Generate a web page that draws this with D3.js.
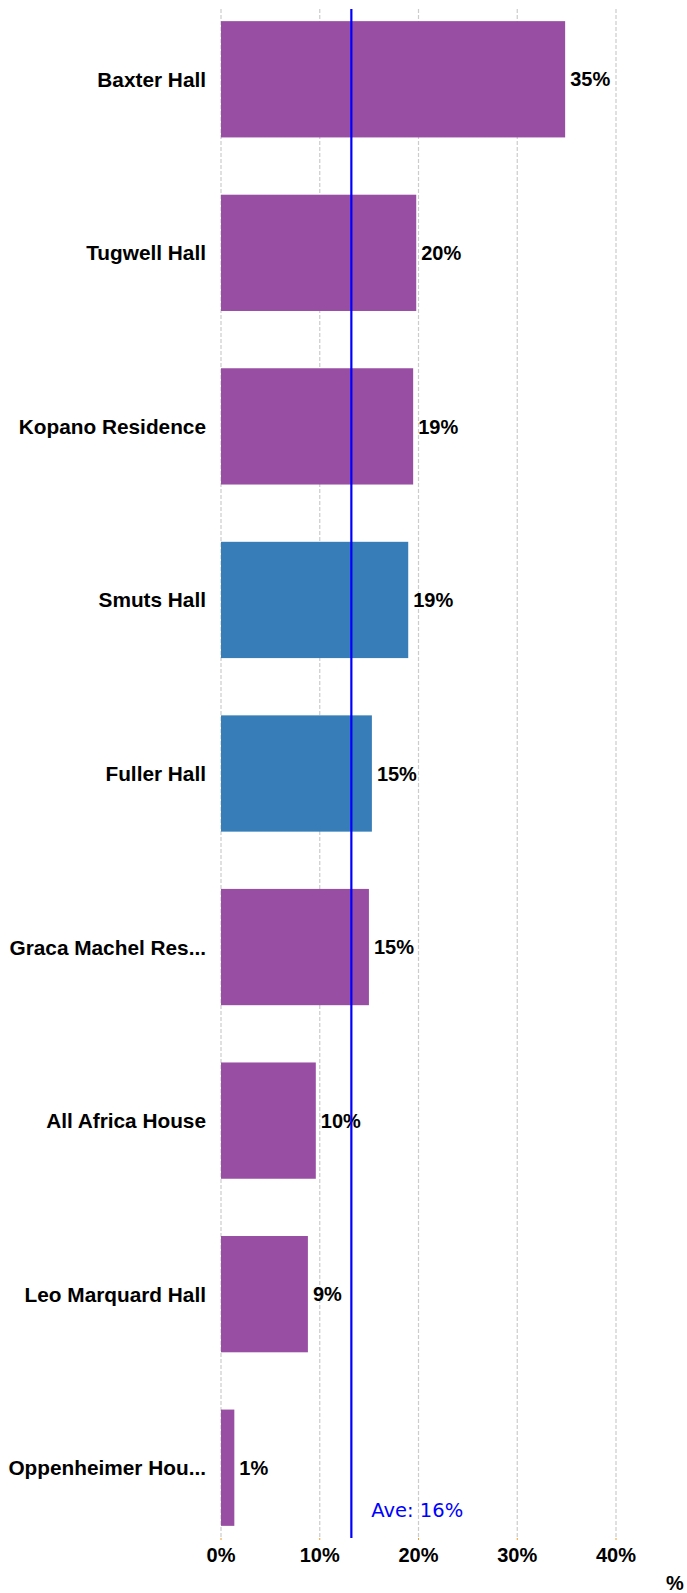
<!DOCTYPE html>
<html>
<head>
<meta charset="utf-8">
<script src="https://cdn.jsdelivr.net/npm/d3@7"></script>
<style>
  html, body { margin: 0; padding: 0; background: #fff; }
  svg { display: block; }
</style>
</head>
<body>
<svg id="chart" width="687" height="1593"></svg>
<script>
const categories = ["Baxter Hall", "Tugwell Hall", "Kopano Residence", "Smuts Hall", "Fuller Hall",
  "Graca Machel Res...", "All Africa House", "Leo Marquard Hall", "Oppenheimer Hou..."];
const values = [34.85, 19.77, 19.46, 18.96, 15.28, 14.98, 9.6, 8.8, 1.35];
const highlighted = ["Smuts Hall", "Fuller Hall"];
const tickValues = [0, 10, 20, 30, 40];
const averageLineValue = 13.2;
const averageLabel = "Ave: 16%";
const axisTitle = "%";

(function () {
const svg = d3.select("#chart");
const plotTop = 9, plotBottom = 1538, plotLeft = 221, plotRight = 616;

const x = d3.scaleLinear().domain([0, 40]).range([plotLeft, plotRight]);
const y = d3.scaleBand().domain(categories).range([plotTop, plotBottom]).paddingInner(0.33).paddingOuter(0.07);

// grid lines
svg.append("g").selectAll("line").data(tickValues).join("line")
  .attr("x1", d => x(d)).attr("x2", d => x(d))
  .attr("y1", plotTop).attr("y2", plotBottom)
  .attr("stroke", "#cccccc").attr("stroke-width", 1.2)
  .attr("stroke-dasharray", "4,2");

// small orange ticks
svg.append("g").selectAll("line").data(tickValues).join("line")
  .attr("x1", d => x(d)).attr("x2", d => x(d))
  .attr("y1", plotBottom).attr("y2", plotBottom + 2)
  .attr("stroke", "#f59a23").attr("stroke-width", 1);

// bars
const data = categories.map((c, i) => ({ c, v: values[i] }));
svg.append("g").selectAll("rect").data(data).join("rect")
  .attr("x", x(0))
  .attr("y", d => y(d.c))
  .attr("width", d => x(d.v) - x(0))
  .attr("height", y.bandwidth())
  .attr("fill", d => highlighted.includes(d.c) ? "#377eb8" : "#984ea3");

// value labels
svg.append("g").selectAll("text").data(data).join("text")
  .attr("x", d => x(d.v) + 5)
  .attr("y", d => y(d.c) + y.bandwidth() / 2)
  .attr("dy", "0.36em")
  .attr("font-family", "Liberation Sans, Arial, sans-serif")
  .attr("font-weight", "bold")
  .attr("font-size", 20)
  .attr("fill", "#000")
  .text(d => Math.round(d.v) + "%");

// category labels
svg.append("g").selectAll("text").data(categories).join("text")
  .attr("x", plotLeft - 15)
  .attr("y", d => y(d) + y.bandwidth() / 2)
  .attr("dy", "0.36em")
  .attr("text-anchor", "end")
  .attr("font-family", "Liberation Sans, Arial, sans-serif")
  .attr("font-weight", "bold")
  .attr("font-size", 20.8)
  .attr("fill", "#000")
  .text(d => d);

// average line
svg.append("line")
  .attr("x1", x(averageLineValue)).attr("x2", x(averageLineValue))
  .attr("y1", plotTop).attr("y2", plotBottom)
  .attr("stroke", "#0000ff").attr("stroke-width", 2.2);

svg.append("text")
  .attr("x", x(averageLineValue) + 20)
  .attr("y", 1517)
  .attr("font-family", "DejaVu Sans, Verdana, sans-serif")
  .attr("font-size", 19.5)
  .attr("fill", "#0000ff")
  .text(averageLabel);

// x tick labels
svg.append("g").selectAll("text").data(tickValues).join("text")
  .attr("x", d => x(d))
  .attr("y", 1562)
  .attr("text-anchor", "middle")
  .attr("font-family", "Liberation Sans, Arial, sans-serif")
  .attr("font-weight", "bold")
  .attr("font-size", 20)
  .attr("fill", "#000")
  .text(d => d + "%");

// axis title
svg.append("text")
  .attr("x", 675)
  .attr("y", 1590)
  .attr("text-anchor", "middle")
  .attr("font-family", "Liberation Sans, Arial, sans-serif")
  .attr("font-weight", "bold")
  .attr("font-size", 20)
  .attr("fill", "#000")
  .text(axisTitle);
})();
</script>
</body>
</html>
